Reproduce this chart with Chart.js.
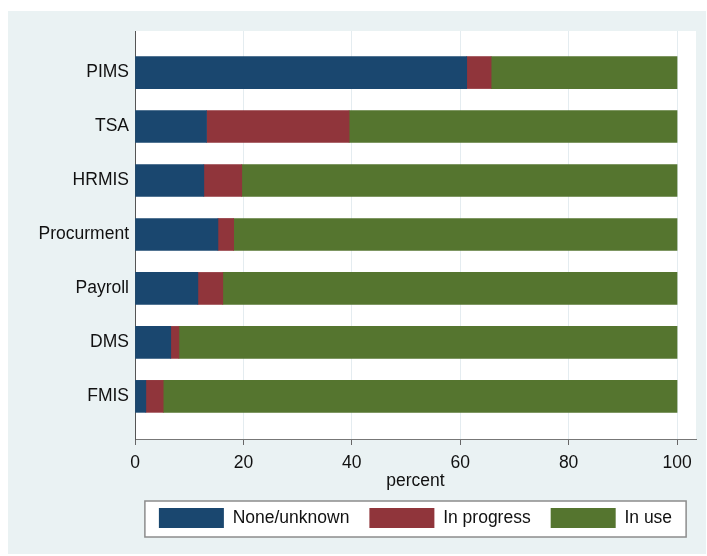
<!DOCTYPE html>
<html><head><meta charset="utf-8">
<script src="https://cdn.jsdelivr.net/npm/chart.js@4/dist/chart.umd.min.js"></script>
<style>html,body{margin:0;padding:0;background:#fff;} #wrap{width:707px;height:556px;position:relative;}</style>
</head><body><div id="wrap"><canvas id="c"></canvas></div>
<script>
const categories = ['PIMS','TSA','HRMIS','Procurment','Payroll','DMS','FMIS'];
const seriesNames = ['None/unknown','In progress','In use'];
const noneUnknown = [61.2,13.2,12.7,15.3,11.6,6.6,2.0];
const inProgress = [4.5,26.3,7.0,2.9,4.6,1.5,3.2];
const inUse = [34.3,60.5,80.3,81.8,83.8,91.9,94.8];
const xTicks = [0,20,40,60,80,100];

const FONT = {family:'"Liberation Sans", Arial, Helvetica, sans-serif', size:17.5};
const TXT = '#111';

const bgPlugin = {
  id:'bg',
  beforeDraw(chart){
    const {ctx, chartArea:a, width, height} = chart;
    ctx.save();
    ctx.fillStyle='#fff'; ctx.fillRect(0,0,width,height);
    ctx.fillStyle='#eaf2f3'; ctx.fillRect(8,11,698,543);
    ctx.fillStyle='#fff'; ctx.fillRect(a.left,a.top,a.right-a.left,a.bottom-a.top);
    const hb = chart.legend && chart.legend.legendHitBoxes;
    if (hb && hb.length){
      const l = Math.min(...hb.map(h=>h.left))-14;
      const r = Math.max(...hb.map(h=>h.left+h.width))+14;
      const t = Math.min(...hb.map(h=>h.top))-7;
      const b = Math.max(...hb.map(h=>h.top+h.height))+9;
      ctx.fillStyle='#fff'; ctx.fillRect(l,t,r-l,b-t);
      ctx.strokeStyle='#8c8c8c'; ctx.lineWidth=1.5; ctx.strokeRect(l,t,r-l,b-t);
    }
    ctx.restore();
  }
};

new Chart(document.getElementById('c'), {
  type:'bar',
  data:{
    labels: categories.map((c,i)=>i),
    datasets:[
      {label:seriesNames[0], data:noneUnknown, backgroundColor:'#1a476f', borderWidth:0, barThickness:32},
      {label:seriesNames[1], data:inProgress, backgroundColor:'#90353b', borderWidth:0, barThickness:32},
      {label:seriesNames[2], data:inUse, backgroundColor:'#55752f', borderWidth:0, barThickness:32}
    ]
  },
  options:{
    responsive:true, maintainAspectRatio:false, animation:false,
    indexAxis:'y',
    layout:{padding:{top:31,right:11,bottom:18,left:0}},
    scales:{
      x:{type:'linear', stacked:true, min:0, max:103.5,
        afterBuildTicks: ax => { ax.ticks = xTicks.map(v=>({value:v})); },
        afterFit: ax => { ax.height = 49; },
        grid:{color:'#e4ecf0', tickColor:'#666', tickLength:6, lineWidth:1},
        border:{display:true, color:'#777', width:1},
        ticks:{padding:8, color:TXT, font:FONT},
        title:{display:true, text:'percent', color:TXT, font:FONT, padding:{top:0,bottom:-3.5}}
      },
      y:{type:'linear', stacked:true, reverse:true, offset:false, min:-0.77, max:6.79,
        afterBuildTicks: ax => { ax.ticks = categories.map((c,i)=>({value:i})); },
        afterFit: ax => { ax.width = 135; },
        grid:{display:false, offset:false, drawTicks:false, tickLength:0},
        border:{display:true, color:'#555', width:1},
        ticks:{padding:6, color:TXT, font:FONT, autoSkip:false, callback: v => categories[v]}
      }
    },
    plugins:{
      legend:{position:'bottom', fullSize:false,
        labels:{boxWidth:65, boxHeight:20, padding:20, color:TXT, font:FONT}},
      tooltip:{enabled:false}
    }
  },
  plugins:[bgPlugin]
});
</script>
</body></html>
